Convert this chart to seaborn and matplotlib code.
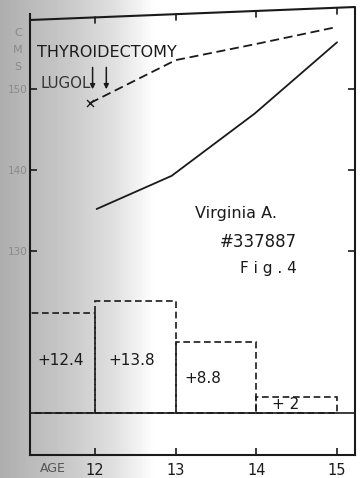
import numpy as np
import pandas as pd
import seaborn as sns
import matplotlib.pyplot as plt
from matplotlib.transforms import blended_transform_factory

# height curves (cm)
dashed_age = [11.94, 13.0, 14.0, 15.0]
dashed_cm = [148.3, 153.6, 155.6, 157.7]
solid_age = [12.02, 12.95, 13.98, 15.0]
solid_cm = [135.2, 139.3, 147.0, 155.8]

# yearly gain bars (cm), drawn on a baseline inside the same axes
gain_start = [11, 12, 13, 14]
gain_cm = [12.4, 13.8, 8.8, 2]
gain_labels = ["+12.4", "+13.8", "+8.8", "+ 2"]
gain_base = 110

age_ticks = [12, 13, 14, 15]
cm_ticks = [130, 140, 150]

sns.set_style("ticks")
plt.rcParams["font.family"] = ["DejaVu Sans"]

ink = "#1a1a1a"
fig = plt.figure(figsize=(3.6, 4.78), dpi=100)

# scanned paper: grey halftone on the left fading to white
bg = fig.add_axes([0, 0, 1, 1], zorder=0)
xs = np.linspace(0, 360, 360)
shade = np.interp(xs, [0, 30, 70, 115, 155, 360], [0.68, 0.73, 0.79, 0.88, 1.0, 1.0])
bg.imshow(np.tile(shade, (20, 1)), cmap="gray", vmin=0, vmax=1, aspect="auto",
          extent=[0, 1, 0, 1])
bg.axis("off")

ax = fig.add_axes([30 / 360, 23 / 478, 325 / 360, 441 / 478], zorder=1)
ax.patch.set_alpha(0)

df = pd.concat([
    pd.DataFrame({"age": dashed_age, "cm": dashed_cm, "curve": "dashed"}),
    pd.DataFrame({"age": solid_age, "cm": solid_cm, "curve": "solid"}),
])
sns.lineplot(data=df, x="age", y="cm", hue="curve", style="curve",
             palette={"dashed": ink, "solid": ink},
             dashes={"dashed": (5, 2.6), "solid": ""},
             lw=1.3, legend=False, ax=ax)
sns.scatterplot(x=dashed_age[:1], y=dashed_cm[:1], marker="x", s=25,
                color=ink, linewidth=1.0, ax=ax)

ax.bar(gain_start, gain_cm, width=1, align="edge", bottom=gain_base,
       fill=False, edgecolor=ink, linewidth=1.2, linestyle=(0, (4, 2.2)))
ax.axhline(gain_base, color=ink, lw=1.2)

xlim = (11.194, 15.223)
ax.set_xlim(*xlim)
ax.set_ylim(104.8, 159.3)
ax.set_xticks(age_ticks)
ax.set_yticks(cm_ticks)
ax.set_xticklabels([str(a) for a in age_ticks], fontsize=10.5, color=ink)
ax.set_yticklabels([str(c) for c in cm_ticks], fontsize=7.5, color="#8a8a8a")
ax.tick_params(axis="both", direction="in", length=5, width=1.2, color=ink,
               top=False, right=True)
ax.tick_params(axis="x", pad=6)
ax.tick_params(axis="y", pad=2)
ax.set_xlabel("")
ax.set_ylabel("")
for s in ax.spines.values():
    s.set_color(ink)
    s.set_linewidth(1.5)

# the hand-drawn top edge runs slightly uphill, with its own ticks
ax.spines["top"].set_visible(False)
y_left, y_right = 1 - 6 / 441, 1 + 7 / 441
ax.plot([0, 1, 1], [y_left, y_right, 1], transform=ax.transAxes,
        color=ink, lw=1.5, clip_on=False)
top_tr = blended_transform_factory(ax.transData, ax.transAxes)
for a in age_ticks:
    f = (a - xlim[0]) / (xlim[1] - xlim[0])
    yt = y_left + f * (y_right - y_left)
    ax.plot([a, a], [yt, yt - 6 / 441], transform=top_tr, color=ink,
            lw=1.2, clip_on=False)

# annotations
ax.text(11.28, 154.6, "THYROIDECTOMY", fontsize=11.5, color=ink, va="center")
ax.text(11.32, 150.7, "LUGOL", fontsize=10.8, color="#333333", va="center")
for xa in [11.97, 12.14]:
    ax.annotate("", xy=(xa, 150.0), xytext=(xa, 152.7),
                arrowprops=dict(arrowstyle="-|>", color=ink, lw=1.1,
                                mutation_scale=7, shrinkA=0, shrinkB=0))
ax.text(13.24, 134.7, "Virginia A.", fontsize=11.5, color=ink, va="center")
ax.text(13.55, 131.1, "#337887", fontsize=12, color=ink, va="center")
ax.text(13.80, 127.9, "F i g . 4", fontsize=11, color=ink, va="center")

label_pos = [(11.57, 116.5), (12.45, 116.5), (13.34, 114.3), (14.36, 111.0)]
for (lx, ly), lab in zip(label_pos, gain_labels):
    ax.text(lx, ly, lab, fontsize=11, color=ink, ha="center", va="center")

fig.text(18 / 360, 1 - 33 / 478, "C", fontsize=8, color="#8a8a8a", ha="center", va="center")
fig.text(18 / 360, 1 - 50 / 478, "M", fontsize=8, color="#8a8a8a", ha="center", va="center")
fig.text(18 / 360, 1 - 67 / 478, "S", fontsize=8, color="#8a8a8a", ha="center", va="center")
fig.text(53 / 360, 1 - 469 / 478, "AGE", fontsize=9, color="#555555", ha="center", va="center")

fig.savefig("out.png", dpi=100)
